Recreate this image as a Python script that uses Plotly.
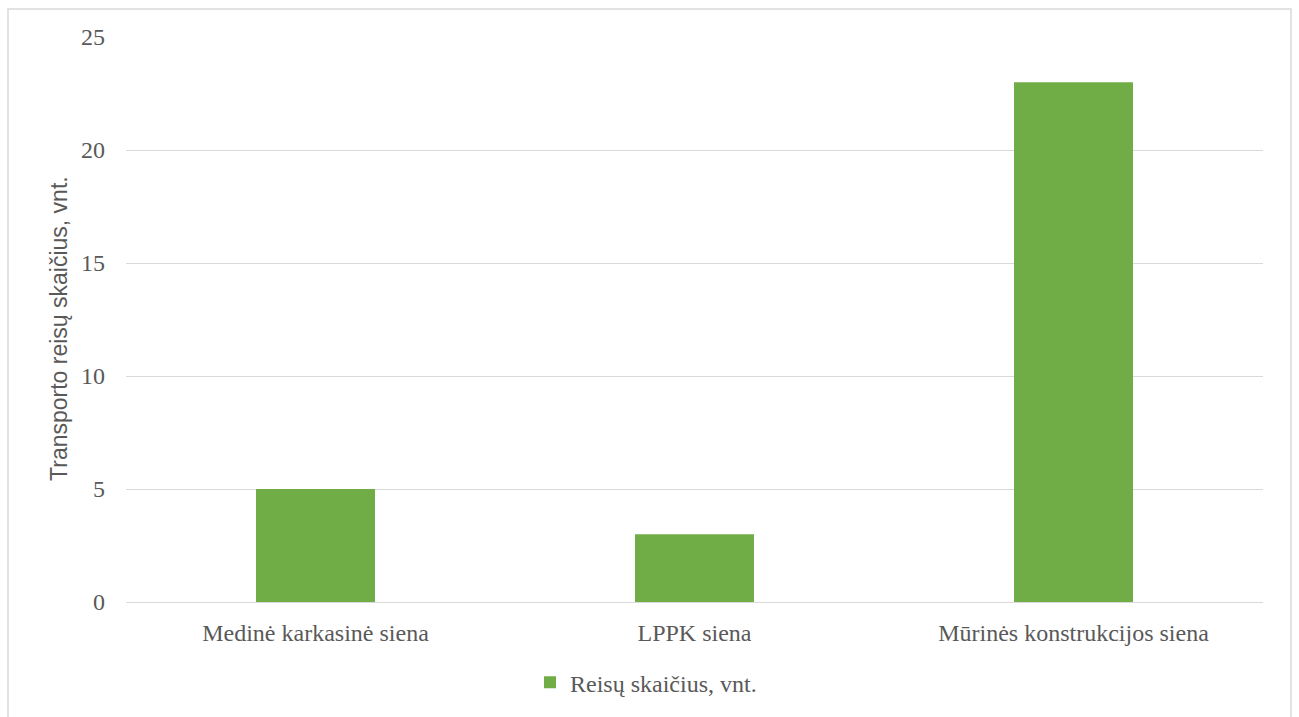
import plotly.graph_objects as go

categories = ["Medinė karkasinė siena", "LPPK siena", "Mūrinės konstrukcijos siena"]
values = [5, 3, 23]
series_name = "Reisų skaičius, vnt."
y_title = "Transporto reisų skaičius, vnt."
y_ticks = [0, 5, 10, 15, 20, 25]

W, H = 1299, 717
L, R, T, B = 126, 36, 37, 113
pw, ph = W - L - R, H - T - B

def px_x(x):
    return (x - L) / pw

def px_y(y):
    return (H - B - y) / ph

fig = go.Figure()
fig.add_trace(go.Bar(
    x=categories, y=values, name=series_name,
    marker=dict(color="#70AD47", line=dict(width=0)),
    width=0.314,
    showlegend=True,
))

serif = "Liberation Serif, Times New Roman, serif"
fig.update_layout(
    width=W, height=H,
    margin=dict(l=L, r=R, t=T, b=B),
    paper_bgcolor="white", plot_bgcolor="white",
    showlegend=True,
    legend=dict(orientation="h", x=px_x(646), xanchor="center", y=px_y(685), yanchor="middle",
                font=dict(family=serif, size=24, color="#595959"),
                itemsizing="constant", itemwidth=30),
    xaxis=dict(showgrid=False, showline=False, zeroline=False, ticks="",
               tickfont=dict(family=serif, size=24, color="#595959"),
               ticklabelstandoff=14),
    yaxis=dict(range=[0, 25], tickvals=y_ticks, showgrid=True, gridcolor="#d9d9d9", gridwidth=1,
               zeroline=True, zerolinecolor="#d9d9d9", zerolinewidth=1, showline=False, ticks="",
               tickfont=dict(family=serif, size=24, color="#595959"),
               ticklabelstandoff=20),
    annotations=[dict(text=y_title, textangle=-90, x=px_x(59), y=px_y(330), xref="paper", yref="paper",
                      showarrow=False, xanchor="center", yanchor="middle",
                      font=dict(family="Liberation Sans, Arial, sans-serif", size=23, color="#595959"))],
    shapes=[dict(type="rect", xref="paper", yref="paper",
                 x0=px_x(8), x1=px_x(1291), y0=px_y(725), y1=px_y(9),
                 line=dict(color="#d9d9d9", width=1.5), fillcolor="rgba(0,0,0,0)", layer="below")],
)

fig.write_html("out.html")
